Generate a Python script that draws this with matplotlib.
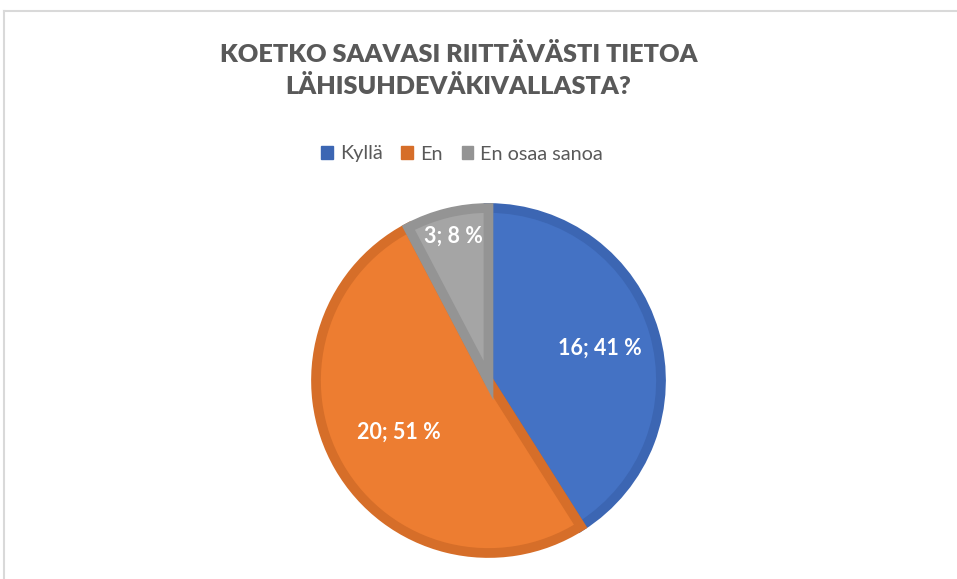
import numpy as np
import matplotlib.pyplot as plt
from matplotlib.patches import Patch
from matplotlib.lines import Line2D

plt.rcParams['font.family'] = ['Lato', 'DejaVu Sans']

# data
vastaukset = ["Kyllä", "En", "En osaa sanoa"]
lukumaarat = [16, 20, 3]
prosentit = [41, 51, 8]

varit = ["#4472C4", "#ED7D31", "#A5A5A5"]
reunat = ["#3C66B3", "#D66E29", "#949494"]
label_r = [0.67, 0.60, 0.86]

W, H = 957, 579
fig = plt.figure(figsize=(W / 100, H / 100), dpi=100)

# kehys (vain ylä- ja vasen reuna näkyy)
fig.add_artist(Line2D([3.5 / W, 1], [1 - 10.5 / H] * 2, color="#D9D9D9", lw=1.5))
fig.add_artist(Line2D([3.5 / W] * 2, [0, 1 - 10.5 / H], color="#D9D9D9", lw=1.5))

# otsikko
fig.text(459 / W, 1 - 54 / H, "KOETKO SAAVASI RIITTÄVÄSTI TIETOA",
         ha="center", va="center", fontsize=18.2, fontweight="heavy", color="#595959")
fig.text(458 / W, 1 - 87 / H, "LÄHISUHDEVÄKIVALLASTA?",
         ha="center", va="center", fontsize=18.2, fontweight="heavy", color="#595959")

# piirakka
r_px = 172.5
ax = fig.add_axes([(488.5 - 180) / W, (H - 380.5 - 180) / H, 360 / W, 360 / H])
wedges, _ = ax.pie(lukumaarat, colors=varit, startangle=90, counterclock=False,
                   radius=1, wedgeprops=dict(linewidth=7, joinstyle="miter"))
for w, ec in zip(wedges, reunat):
    w.set_edgecolor(ec)
lim = 180 / r_px
ax.set_xlim(-lim, lim)
ax.set_ylim(-lim, lim)
ax.set_aspect("equal")
ax.axis("off")

for w, n, p, rr in zip(wedges, lukumaarat, prosentit, label_r):
    ang = np.deg2rad((w.theta1 + w.theta2) / 2)
    ax.text(rr * np.cos(ang), rr * np.sin(ang), f"{n}; {p} %",
            ha="center", va="center", fontsize=15.5, fontweight="bold", color="white")

# selite
kahvat = [Patch(facecolor=c, edgecolor=c) for c in reunat]
fig.legend(kahvat, vastaukset, ncol=3, loc="center",
           bbox_to_anchor=(462 / W, 1 - 154 / H), frameon=False,
           fontsize=14.3, handlelength=0.6, handleheight=0.6,
           handletextpad=0.35, columnspacing=0.95, labelcolor="#595959")

fig.savefig("out.png", dpi=100)
